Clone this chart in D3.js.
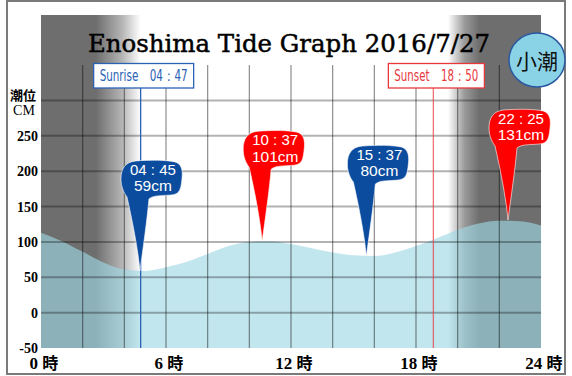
<!DOCTYPE html>
<html>
<head>
<meta charset="utf-8">
<script src="https://cdn.jsdelivr.net/npm/d3@7"></script>
<style>
  body { margin: 0; background: #fff; }
  svg { display: block; }
</style>
</head>
<body>
<svg id="chart" width="572" height="376"></svg>
<script>
var title = 'Enoshima Tide Graph 2016/7/27';
var tideName = '小潮';

// hourly tide level (cm)
var tideHours = [0, 1, 2, 3, 4, 5, 6, 7, 8, 9, 10, 11, 12, 13, 14, 15, 16, 17, 18, 19, 20, 21, 22, 23, 24];
var tideLevels = [113, 101, 86, 71, 61, 59, 64, 72, 83, 94, 100, 101, 97, 91, 85, 81, 80, 85, 94, 105, 117, 126, 130, 129, 123];

// high / low tide events
var eventTimes = ['04:45', '10:37', '15:37', '22:25'];
var eventLevels = [59, 101, 80, 131];
var eventKinds = ['low', 'high', 'low', 'high'];

var sunrise = '04:47';
var sunset = '18:50';

var yTicks = [-50, 0, 50, 100, 150, 200, 250];
var yGrid = [0, 50, 100, 150, 200, 250, 300];
var xGrid = [2, 4, 6, 8, 10, 12, 14, 16, 18, 20, 22];
var xTicks = [0, 6, 12, 18, 24];

var plotLeft = 41, plotRight = 541, plotTop = 15, plotBottom = 348;
var nightGray = '#6e6e6e';
var kindColor = { low: '#0c4c9e', high: '#ff0000' };

function toHours(s) {
  var p = s.split(':');
  return +p[0] + p[1] / 60;
}

var x = d3.scaleLinear().domain([0, 24]).range([plotLeft, plotRight]);
var y = d3.scaleLinear().domain([-50, 350]).range([plotBottom, 65]);

var svg = d3.select('#chart');
var defs = svg.append('defs');

// outer frame
svg.append('rect')
  .attr('x', 7).attr('y', 1).attr('width', 558).attr('height', 373)
  .attr('fill', '#fff').attr('stroke', '#7a7a7a').attr('stroke-width', 2);

// day / night background
var riseH = toHours(sunrise), setH = toHours(sunset);
var shade = [
  [0, nightGray], [riseH - 2.15, nightGray], [riseH - 0.9, '#b4b4b4'], [riseH, '#ffffff'],
  [setH + 0.7, '#ffffff'], [setH + 1.5, '#9a9a9a'], [setH + 2.2, nightGray], [24, nightGray]
];
defs.append('linearGradient')
  .attr('id', 'night')
  .attr('x1', 0).attr('x2', 1).attr('y1', 0).attr('y2', 0)
  .selectAll('stop')
  .data(shade).enter().append('stop')
  .attr('offset', d => d[0] / 24)
  .attr('stop-color', d => d[1]);

svg.append('rect')
  .attr('x', plotLeft).attr('y', plotTop)
  .attr('width', plotRight - plotLeft).attr('height', plotBottom - plotTop)
  .attr('fill', 'url(#night)');

// tide area
var area = d3.area()
  .x((d, i) => x(tideHours[i]))
  .y0(plotBottom)
  .y1(d => y(d))
  .curve(d3.curveMonotoneX);

svg.append('path')
  .datum(tideLevels)
  .attr('d', area)
  .attr('fill', 'rgb(159,216,228)')
  .attr('fill-opacity', 0.64);

// grid
svg.append('g').selectAll('line')
  .data(yGrid).enter().append('line')
  .attr('x1', plotLeft).attr('x2', plotRight)
  .attr('y1', d => y(d)).attr('y2', d => y(d))
  .attr('stroke', '#000').attr('stroke-opacity', 0.3).attr('stroke-width', 2);

svg.append('g').selectAll('line')
  .data(xGrid).enter().append('line')
  .attr('x1', d => x(d)).attr('x2', d => x(d))
  .attr('y1', y(350)).attr('y2', plotBottom)
  .attr('stroke', '#000').attr('stroke-opacity', 0.45).attr('stroke-width', 1.2);

// axis labels
svg.append('g').selectAll('text')
  .data(yTicks).enter().append('text')
  .attr('x', 38).attr('y', d => y(d))
  .attr('dy', '0.36em')
  .attr('text-anchor', 'end')
  .attr('font-family', 'Liberation Serif, serif')
  .attr('font-weight', 'bold')
  .attr('font-size', 14)
  .text(d => d);

svg.append('text')
  .attr('x', 23).attr('y', 100)
  .attr('text-anchor', 'middle')
  .attr('font-family', 'Noto Sans CJK JP')
  .attr('font-weight', 'bold')
  .attr('font-size', 13)
  .text('潮位');
svg.append('text')
  .attr('x', 24).attr('y', 115)
  .attr('text-anchor', 'middle')
  .attr('font-family', 'Liberation Serif, serif')
  .attr('font-size', 14)
  .text('CM');

var xLabels = svg.append('g').selectAll('text')
  .data(xTicks).enter().append('text')
  .attr('x', d => x(d) + 3).attr('y', 369)
  .attr('text-anchor', 'middle')
  .attr('font-size', 17);
xLabels.append('tspan')
  .attr('font-family', 'Liberation Serif, serif')
  .attr('font-weight', 'bold')
  .text(d => d + ' ');
xLabels.append('tspan')
  .attr('font-family', 'Noto Sans CJK JP')
  .attr('font-weight', 'bold')
  .attr('font-size', 16)
  .text('時');

// sunrise / sunset markers
var sunData = [
  { label: 'Sunrise\u3000' + sunrise.replace(':', '\uff1a'), h: riseH, color: '#2a62b6', w: 100 },
  { label: 'Sunset\u3000' + sunset.replace(':', '\uff1a'), h: setH, color: '#e8383c', w: 96 }
];
var sun = svg.append('g').selectAll('g')
  .data(sunData).enter().append('g');
sun.append('line')
  .attr('x1', d => x(d.h)).attr('x2', d => x(d.h))
  .attr('y1', 88).attr('y2', plotBottom)
  .attr('stroke', d => d.color)
  .attr('stroke-opacity', (d, i) => i ? 0.7 : 1)
  .attr('stroke-width', 1.3);
sun.append('rect')
  .attr('x', d => x(d.h) + 3 - d.w / 2).attr('y', 63.5)
  .attr('width', d => d.w).attr('height', 24.5)
  .attr('fill', '#fff')
  .attr('stroke', d => d.color).attr('stroke-width', 1.3);
sun.append('text')
  .attr('x', d => x(d.h) + 3).attr('y', 76)
  .attr('dy', '0.35em')
  .attr('text-anchor', 'middle')
  .attr('font-family', 'DejaVu Sans Condensed, DejaVu Sans')
  .attr('font-stretch', 'condensed')
  .attr('font-size', 15)
  .attr('textLength', (d, i) => i ? 84 : 88)
  .attr('lengthAdjust', 'spacingAndGlyphs')
  .attr('fill', d => d.color)
  .text(d => d.label);

// tide callouts (pin shape with tip on the tide level)
function pinPath(tx, ty) {
  var pts = [
    'M', 0, 0,
    'C', -2, -22, -8, -52, -13, -74,
    'C', -16, -78, -19, -84, -19, -92,
    'C', -19, -102, -15, -109, -4, -110,
    'C', 10, -111, 26, -111, 35, -109,
    'C', 42, -107, 43, -100, 42, -92,
    'C', 41, -82, 40, -77, 32, -76,
    'C', 22, -75, 14, -76, 9, -72,
    'C', 7, -50, 3, -22, 0, 0, 'Z'
  ];
  var out = '', k = 0;
  pts.forEach(v => {
    if (typeof v === 'string') { out += v + ' '; k = 0; }
    else { out += (k % 2 === 0 ? v + tx : v + ty) + (k % 2 === 0 ? ',' : ' '); k++; }
  });
  return out;
}

var pins = svg.append('g').selectAll('g')
  .data(eventTimes).enter().append('g');
pins.append('path')
  .attr('d', (d, i) => pinPath(x(toHours(d)), y(eventLevels[i])))
  .attr('fill', (d, i) => kindColor[eventKinds[i]])
  .attr('stroke', '#fff').attr('stroke-opacity', 0.6).attr('stroke-width', 1);
pins.append('text')
  .attr('x', (d, i) => x(toHours(d)) + 13)
  .attr('y', (d, i) => y(eventLevels[i]) - 101)
  .attr('dy', '0.35em')
  .attr('text-anchor', 'middle')
  .attr('font-family', 'Liberation Sans, Arial, sans-serif')
  .attr('font-size', 15)
  .attr('fill', '#fff')
  .text(d => d.replace(':', ' : '));
pins.append('text')
  .attr('x', (d, i) => x(toHours(d)) + 13)
  .attr('y', (d, i) => y(eventLevels[i]) - 85)
  .attr('dy', '0.35em')
  .attr('text-anchor', 'middle')
  .attr('font-family', 'Liberation Sans, Arial, sans-serif')
  .attr('font-size', 15.5)
  .attr('fill', '#fff')
  .text((d, i) => eventLevels[i] + 'cm');

// title
svg.append('text')
  .attr('x', 289).attr('y', 52)
  .attr('text-anchor', 'middle')
  .attr('font-family', 'DejaVu Serif, serif')
  .attr('font-size', 25)
  .attr('textLength', 402)
  .attr('lengthAdjust', 'spacingAndGlyphs')
  .attr('fill', '#000')
  .attr('stroke', '#000').attr('stroke-width', 0.5)
  .text(title);

// tide name badge
svg.append('ellipse')
  .attr('cx', 537).attr('cy', 60).attr('rx', 28).attr('ry', 27)
  .attr('fill', '#8ad2e6')
  .attr('stroke', '#2c5aa0').attr('stroke-width', 1.5);
svg.append('text')
  .attr('x', 537).attr('y', 62)
  .attr('dy', '0.35em')
  .attr('text-anchor', 'middle')
  .attr('font-family', 'Noto Sans CJK JP')
  .attr('font-size', 21)
  .attr('fill', '#111')
  .text(tideName);
</script>
</body>
</html>
